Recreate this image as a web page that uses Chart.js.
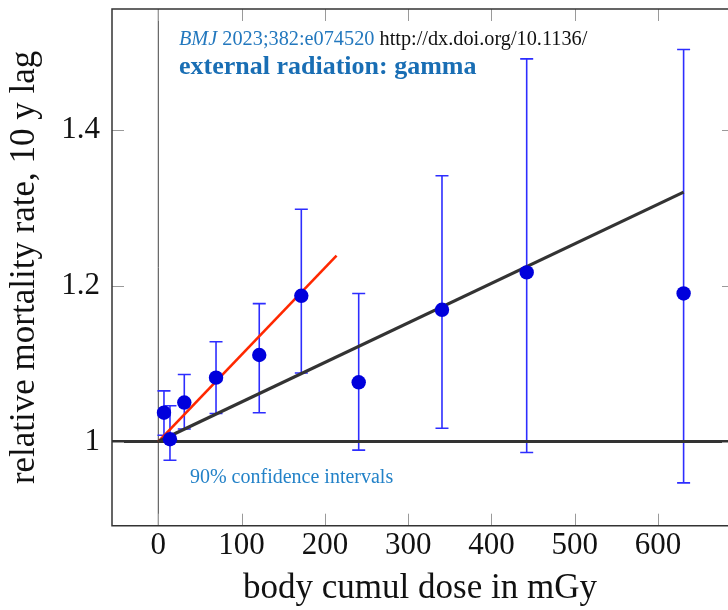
<!DOCTYPE html>
<html>
<head>
<meta charset="utf-8">
<script src="https://cdn.jsdelivr.net/npm/chart.js@4.4.0/dist/chart.umd.min.js"></script>
<style>
html, body { margin: 0; padding: 0; background: #fff; }
</style>
</head>
<body>
<canvas id="myChart" width="728" height="610"></canvas>
<script>
// body cumulative dose (mGy) and relative mortality rate with 90% CI
let dose  = [6.8, 14, 31.2, 69.3, 121.2, 171.7, 240.6, 340.6, 442.3, 630.7];
let rr    = [1.037, 1.003, 1.050, 1.082, 1.111, 1.187, 1.076, 1.169, 1.217, 1.190];
let lower = [1.008, 0.976, 1.016, 1.036, 1.037, 1.088, 0.989, 1.017, 0.986, 0.947];
let upper = [1.065, 1.046, 1.086, 1.128, 1.177, 1.298, 1.190, 1.341, 1.491, 1.503];

// fitted lines
let fitAllX = [0, 630.7];
let fitAllY = [1, 1.32];
let fitLowX = [0, 214];
let fitLowY = [1, 1.2385];

let xTicks = [0, 100, 200, 300, 400, 500, 600];
let yTicks = [1, 1.2, 1.4];
let yTickLabels = ['1', '1.2', '1.4'];

const serif = '"Liberation Serif", "Times New Roman", serif';

let extras = {
    id: 'extras',
    beforeDatasetsDraw(chart) {
        let ctx = chart.ctx, xs = chart.scales.x, ys = chart.scales.y, a = chart.chartArea;
        ctx.save();
        ctx.beginPath();
        ctx.rect(a.left, a.top, a.right - a.left, a.bottom - a.top);
        ctx.clip();
        // vertical line at zero dose
        let x0 = xs.getPixelForValue(0);
        ctx.strokeStyle = '#444';
        ctx.lineWidth = 1;
        ctx.beginPath();
        ctx.moveTo(x0, a.top); ctx.lineTo(x0, a.bottom);
        ctx.stroke();
        // error bars
        ctx.strokeStyle = 'rgb(45,45,255)';
        ctx.lineWidth = 1.6;
        for (let i = 0; i < dose.length; i++) {
            let px = xs.getPixelForValue(dose[i]);
            let lo = ys.getPixelForValue(lower[i]);
            let hi = ys.getPixelForValue(upper[i]);
            ctx.beginPath();
            ctx.moveTo(px, lo); ctx.lineTo(px, hi);
            ctx.moveTo(px - 6.5, lo); ctx.lineTo(px + 6.5, lo);
            ctx.moveTo(px - 6.5, hi); ctx.lineTo(px + 6.5, hi);
            ctx.stroke();
        }
        // reference line at 1
        let y1 = ys.getPixelForValue(1);
        ctx.strokeStyle = '#333';
        ctx.lineWidth = 3;
        ctx.beginPath();
        ctx.moveTo(a.left, y1); ctx.lineTo(a.right, y1);
        ctx.stroke();
        ctx.restore();
    },
    afterDraw(chart) {
        let ctx = chart.ctx, xs = chart.scales.x, ys = chart.scales.y, a = chart.chartArea;
        ctx.save();
        // inward ticks on all four sides
        ctx.strokeStyle = '#9a9a9a';
        ctx.lineWidth = 1;
        ctx.beginPath();
        xTicks.forEach(v => {
            let px = Math.round(xs.getPixelForValue(v)) + 0.5;
            ctx.moveTo(px, a.bottom); ctx.lineTo(px, a.bottom - 12);
            ctx.moveTo(px, a.top); ctx.lineTo(px, a.top + 12);
        });
        yTicks.forEach(v => {
            let py = Math.round(ys.getPixelForValue(v)) + 0.5;
            ctx.moveTo(a.left, py); ctx.lineTo(a.left + 12, py);
            ctx.moveTo(a.right, py); ctx.lineTo(a.right - 6, py);
        });
        ctx.stroke();
        // frame
        ctx.strokeStyle = '#333';
        ctx.lineWidth = 1.5;
        ctx.beginPath();
        ctx.moveTo(a.right + 2, a.top); ctx.lineTo(a.left, a.top);
        ctx.lineTo(a.left, a.bottom); ctx.lineTo(a.right + 2, a.bottom);
        ctx.stroke();

        // annotations
        ctx.textBaseline = 'alphabetic';
        ctx.textAlign = 'left';
        let tx = xs.getPixelForValue(24.8);
        let ty = ys.getPixelForValue(1.509);
        ctx.font = 'italic 20.3px ' + serif;
        ctx.fillStyle = 'rgb(35,120,190)';
        ctx.fillText('BMJ', tx, ty);
        tx += ctx.measureText('BMJ ').width;
        ctx.font = '20.3px ' + serif;
        ctx.fillText('2023;382:e074520', tx, ty);
        tx += ctx.measureText('2023;382:e074520 ').width;
        ctx.fillStyle = '#111';
        ctx.fillText('http://dx.doi.org/10.1136/', tx, ty);

        ctx.font = 'bold 26px ' + serif;
        ctx.fillStyle = 'rgb(25,110,180)';
        ctx.fillText('external radiation: gamma', xs.getPixelForValue(24.8), ys.getPixelForValue(1.472));

        ctx.font = '20px ' + serif;
        ctx.fillStyle = 'rgb(35,130,200)';
        ctx.fillText('90% confidence intervals', xs.getPixelForValue(38), ys.getPixelForValue(0.947));
        ctx.restore();
    }
};

let ctx = document.getElementById('myChart').getContext('2d');
let chart = new Chart(ctx, {
    type: 'scatter',
    data: {
        datasets: [
        { // points
            label: 'rate',
            data: dose.map((d, i) => ({x: d, y: rr[i]})),
            backgroundColor: 'rgb(0,0,220)',
            borderWidth: 0,
            pointRadius: 7.2,
            order: 0
        },
        { // fit over whole range
            type: 'line',
            label: 'fit all',
            data: fitAllX.map((d, i) => ({x: d, y: fitAllY[i]})),
            borderColor: '#333',
            borderWidth: 3.2,
            pointRadius: 0,
            order: 1
        },
        { // fit low doses
            type: 'line',
            label: 'fit low',
            data: fitLowX.map((d, i) => ({x: d, y: fitLowY[i]})),
            borderColor: 'rgb(255,40,0)',
            borderWidth: 2.6,
            pointRadius: 0,
            order: 1
        }]
    },
    options: {
        responsive: false,
        animation: false,
        layout: {autoPadding: false, padding: {top: 9, right: 0, bottom: 0, left: 0}},
        plugins: {legend: {display: false}, tooltip: {enabled: false}},
        scales: {
            x: {
                type: 'linear',
                min: -55.6,
                max: 684,
                grid: {display: false, drawTicks: false},
                border: {display: false},
                afterBuildTicks: s => { s.ticks = xTicks.map(v => ({value: v})); },
                afterFit: s => { s.height = 84.3; s.paddingLeft = 0; s.paddingRight = 0; },
                ticks: {
                    font: {family: serif, size: 31},
                    color: '#111',
                    padding: 2,
                    maxRotation: 0,
                    callback: v => String(v)
                },
                title: {
                    display: true,
                    text: 'body cumul dose in mGy',
                    font: {family: serif, size: 35},
                    color: '#111',
                    padding: {top: 0, bottom: 0}
                }
            },
            y: {
                type: 'linear',
                min: 0.892,
                max: 1.555,
                grid: {display: false, drawTicks: false},
                border: {display: false},
                afterBuildTicks: s => { s.ticks = yTicks.map(v => ({value: v})); },
                afterFit: s => { s.width = 112; s.paddingTop = 0; s.paddingBottom = 0; },
                ticks: {
                    font: {family: serif, size: 31},
                    color: '#111',
                    padding: 12,
                    callback: (v) => yTickLabels[yTicks.indexOf(v)] ?? ''
                },
                title: {
                    display: true,
                    text: 'relative mortality rate, 10 y lag',
                    font: {family: serif, size: 35},
                    color: '#111',
                    padding: {top: 4, bottom: 0}
                }
            }
        }
    },
    plugins: [extras]
});
</script>
</body>
</html>
